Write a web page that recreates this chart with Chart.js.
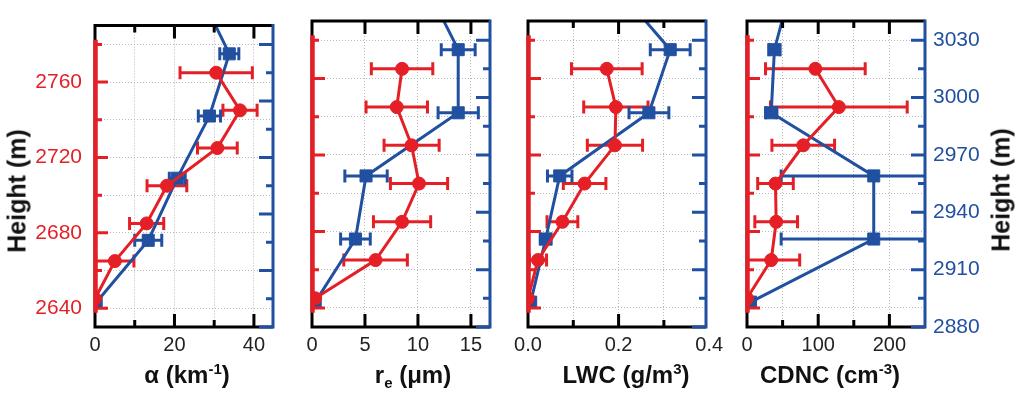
<!DOCTYPE html>
<html>
<head>
<meta charset="utf-8">
<script src="https://cdn.jsdelivr.net/npm/chart.js@4.4.1/dist/chart.umd.min.js"></script>
<style>
  body { margin: 0; background: #fff; }
  #wrap { position: relative; width: 1024px; height: 395px; overflow: hidden; background: #fff;
          font-family: "Liberation Sans", Arial, sans-serif; color: #111; }
  canvas { position: absolute; top: 0; }
  .xt { position: absolute; top: 362px; transform: translateX(-50%); font-weight: bold; font-size: 24px;
        line-height: 26px; white-space: nowrap; }
  .yt { position: absolute; font-weight: bold; font-size: 25px; white-space: nowrap;
        transform: translate(-50%, -50%) rotate(-90deg); }
  sup { font-size: 15px; vertical-align: 9px; line-height: 0; }
  sub { font-size: 15px; vertical-align: -5px; line-height: 0; }
</style>
</head>
<body>
<div id="wrap">
  <canvas id="c0"></canvas>
  <canvas id="c1"></canvas>
  <canvas id="c2"></canvas>
  <canvas id="c3"></canvas>
  <div class="yt" style="left:17px; top:191px;">Height (m)</div>
  <div class="yt" style="left:1001px; top:190px;">Height (m)</div>
  <div class="xt" style="left:187px;">α (km<sup>-1</sup>)</div>
  <div class="xt" style="left:413px;">r<sub>e</sub> (μm)</div>
  <div class="xt" style="left:626px;">LWC (g/m<sup>3</sup>)</div>
  <div class="xt" style="left:830px;">CDNC (cm<sup>-3</sup>)</div>
</div>
<script>
const RED = '#e41f26';
const BLUE = '#2150a0';
const GRID = '#b8b8b8';
const FONT = '"Liberation Sans", Arial, sans-serif';

// heights of the two profiles (left red axis, right blue axis)
const redHeight = [2645, 2665, 2685, 2705, 2725, 2745, 2765];
const blueHeight = [2893, 2926, 2959, 2992, 3025, 3058];

const redTicks = [2640, 2660, 2680, 2700, 2720, 2740, 2760, 2780];
const redLabels = [2640, 2680, 2720, 2760];
const blueTicks = [2880, 2895, 2910, 2925, 2940, 2955, 2970, 2985, 3000, 3015, 3030];
const blueLabels = [2880, 2910, 2940, 2970, 3000, 3030];

// extinction
const alphaRed = [0, 5.0, 13.0, 18.1, 30.8, 36.5, 30.5];
const alphaRedErr = [0, 4.8, 4.3, 5.0, 5.0, 4.3, 9.1];
const alphaBlue = [0.3, 13.4, 20.7, 28.8, 33.8, 26.2];
const alphaBlueErr = [0, 3.4, 2.0, 2.8, 2.4, 0];
const alphaTicks = [0, 10, 20, 30, 40];
const alphaLabels = [0, 20, 40];

// effective radius
const reRed = [0.3, 6.0, 8.5, 10.1, 9.4, 8.0, 8.5];
const reRedErr = [0, 3.0, 2.7, 2.7, 2.6, 2.9, 2.9];
const reBlue = [0.3, 4.1, 5.1, 13.8, 13.8, 10.8];
const reBlueErr = [0, 1.4, 2.0, 1.9, 1.6, 0];
const reTicks = [0, 5, 10, 15];
const reLabels = [0, 5, 10, 15];

// liquid water content
const lwcRed = [0, 0.022, 0.076, 0.125, 0.192, 0.194, 0.174];
const lwcRedErr = [0, 0.019, 0.034, 0.047, 0.061, 0.071, 0.078];
const lwcBlue = [0.006, 0.039, 0.070, 0.267, 0.314, 0.194];
const lwcBlueErr = [0, 0.012, 0.027, 0.044, 0.044, 0];
const lwcTicks = [0, 0.1, 0.2, 0.3, 0.4];
const lwcLabels = [0, 0.2, 0.4];

// droplet number concentration
const cdncRed = [0, 34, 41, 40, 79, 129, 96];
const cdncRedErr = [0, 40, 30, 25, 44, 96, 70];
const cdncBlue = [5, 178, 178, 34, 38.5, 62];
const cdncBlueErr = [0, 130, 130, 8, 8, 0];
const cdncTicks = [0, 50, 100, 150, 200];
const cdncLabels = [0, 100, 200];

const PLOT_W = 178, PAD = 70, TOP = 21, BOTTOM = 327, H = 395;

const panels = [
  { left: 95,  max: 44.8,  dec: 0, ticks: alphaTicks, labels: alphaLabels, red: alphaRed, redErr: alphaRedErr, blue: alphaBlue, blueErr: alphaBlueErr },
  { left: 312, max: 16.8,  dec: 0, ticks: reTicks,    labels: reLabels,    red: reRed,    redErr: reRedErr,    blue: reBlue,    blueErr: reBlueErr },
  { left: 528, max: 0.393, dec: 1, ticks: lwcTicks,   labels: lwcLabels,   red: lwcRed,   redErr: lwcRedErr,   blue: lwcBlue,   blueErr: lwcBlueErr },
  { left: 747, max: 250,   dec: 0, ticks: cdncTicks,  labels: cdncLabels,  red: cdncRed,  redErr: cdncRedErr,  blue: cdncBlue,  blueErr: cdncBlueErr }
];

const has = (list, v) => list.some(l => Math.abs(l - v) < 1e-9);

const frame = {
  id: 'frame',
  beforeDatasetsDraw(chart) {
    const { ctx, chartArea: a } = chart;
    ctx.save();
    ctx.beginPath();
    ctx.rect(a.left, a.top, a.right - a.left, a.bottom - a.top);
    ctx.clip();
    chart.data.datasets.forEach((ds, i) => {
      const meta = chart.getDatasetMeta(i);
      const xs = chart.scales[meta.xAxisID];
      const ys = chart.scales[meta.yAxisID];
      ds.errors.forEach((e, j) => {
        if (!e) return;
        const p = ds.data[j];
        const y = ys.getPixelForValue(p.y);
        const x0 = xs.getPixelForValue(p.x - e);
        const x1 = xs.getPixelForValue(p.x + e);
        ctx.strokeStyle = ds.borderColor;
        ctx.lineWidth = 3;
        ctx.beginPath();
        ctx.moveTo(x0, y); ctx.lineTo(x1, y);
        ctx.moveTo(x0, y - 6.5); ctx.lineTo(x0, y + 6.5);
        ctx.moveTo(x1, y - 6.5); ctx.lineTo(x1, y + 6.5);
        ctx.stroke();
      });
    });
    ctx.restore();
  },
  afterDraw(chart, args, opts) {
    const { ctx, chartArea: a, scales } = chart;
    const x = scales.x, yR = scales.yR, yB = scales.yB;
    ctx.save();
    ctx.lineWidth = 3;
    ctx.strokeStyle = '#000';
    ctx.beginPath();
    ctx.moveTo(a.right, a.top); ctx.lineTo(a.left, a.top);
    ctx.lineTo(a.left, a.bottom); ctx.lineTo(a.right, a.bottom);
    opts.ticks.forEach(v => {
      if (v <= x.min || v > x.max) return;
      const px = x.getPixelForValue(v);
      const len = has(opts.labels, v) ? 13 : 7;
      ctx.moveTo(px, a.top); ctx.lineTo(px, a.top + len);
      ctx.moveTo(px, a.bottom); ctx.lineTo(px, a.bottom - len);
    });
    ctx.stroke();

    ctx.strokeStyle = BLUE;
    ctx.beginPath();
    ctx.moveTo(a.right, a.top - 1.5); ctx.lineTo(a.right, a.bottom + 1.5);
    blueTicks.forEach(v => {
      const py = yB.getPixelForValue(v);
      const len = has(blueLabels, v) ? 14 : 7;
      ctx.moveTo(a.right, py); ctx.lineTo(a.right - len, py);
    });
    ctx.stroke();

    // red axis line sits over the black frame
    ctx.strokeStyle = RED;
    ctx.lineWidth = 4.5;
    ctx.beginPath();
    ctx.moveTo(a.left + 0.5, yR.getPixelForValue(2637.5));
    ctx.lineTo(a.left + 0.5, yR.getPixelForValue(2782.5));
    ctx.stroke();
    ctx.lineWidth = 3;
    ctx.beginPath();
    redTicks.forEach(v => {
      const py = yR.getPixelForValue(v);
      const len = has(redLabels, v) ? 13 : 7;
      ctx.moveTo(a.left, py); ctx.lineTo(a.left + len, py);
    });
    ctx.stroke();
    ctx.restore();
  }
};

panels.forEach((p, i) => {
  const canvas = document.getElementById('c' + i);
  canvas.width = PLOT_W + 2 * PAD;
  canvas.height = H;
  canvas.style.left = (p.left - PAD) + 'px';

  new Chart(canvas, {
    type: 'line',
    data: {
      datasets: [
        {
          data: redHeight.map((h, j) => ({ x: p.red[j], y: h })),
          errors: p.redErr,
          yAxisID: 'yR',
          borderColor: RED, backgroundColor: RED, borderWidth: 3,
          pointStyle: 'circle', pointRadius: 6.5, pointBorderWidth: 1,
          pointBackgroundColor: RED, pointBorderColor: RED, tension: 0
        },
        {
          data: blueHeight.map((h, j) => ({ x: p.blue[j], y: h })),
          errors: p.blueErr,
          yAxisID: 'yB',
          borderColor: BLUE, backgroundColor: BLUE, borderWidth: 3,
          pointStyle: 'rect', pointRadius: 8.5, pointBorderWidth: 1,
          pointBackgroundColor: BLUE, pointBorderColor: BLUE, tension: 0
        }
      ]
    },
    options: {
      responsive: false,
      animation: false,
      devicePixelRatio: 1,
      layout: { padding: { top: TOP } },
      plugins: {
        legend: { display: false },
        tooltip: { enabled: false },
        frame: { ticks: p.ticks, labels: p.labels }
      },
      scales: {
        x: {
          type: 'linear', position: 'bottom', min: 0, max: p.max,
          afterBuildTicks: s => { s.ticks = p.ticks.map(v => ({ value: v })); },
          afterFit: s => { s.height = H - BOTTOM; },
          ticks: {
            autoSkip: false, maxRotation: 0, padding: 6, color: '#222',
            font: { size: 20, family: FONT },
            callback: v => has(p.labels, v) ? v.toFixed(p.dec) : ''
          },
          grid: {
            drawTicks: false, lineWidth: 1,
            color: c => (c.tick && c.tick.value > p.max) ? 'rgba(0,0,0,0)' : GRID
          },
          border: { display: false, dash: [1, 2] }
        },
        yR: {
          type: 'linear', axis: 'y', position: 'left', min: 2630, max: 2790,
          afterBuildTicks: s => { s.ticks = redTicks.map(v => ({ value: v })); },
          afterFit: s => { s.width = PAD; },
          ticks: {
            display: i === 0, autoSkip: false, padding: 13, color: RED,
            font: { size: 21, family: FONT },
            callback: v => has(redLabels, v) ? String(v) : ''
          },
          grid: { drawTicks: false, lineWidth: 1, color: GRID },
          border: { display: false, dash: [1, 2] }
        },
        yB: {
          type: 'linear', axis: 'y', position: 'right', min: 2880, max: 3040,
          afterBuildTicks: s => { s.ticks = blueTicks.map(v => ({ value: v })); },
          afterFit: s => { s.width = PAD; },
          ticks: {
            display: i === 3, autoSkip: false, padding: 8, color: BLUE,
            font: { size: 21, family: FONT },
            callback: v => has(blueLabels, v) ? String(v) : ''
          },
          grid: { drawOnChartArea: false, drawTicks: false },
          border: { display: false }
        }
      }
    },
    plugins: [frame]
  });
});
</script>
</body>
</html>
